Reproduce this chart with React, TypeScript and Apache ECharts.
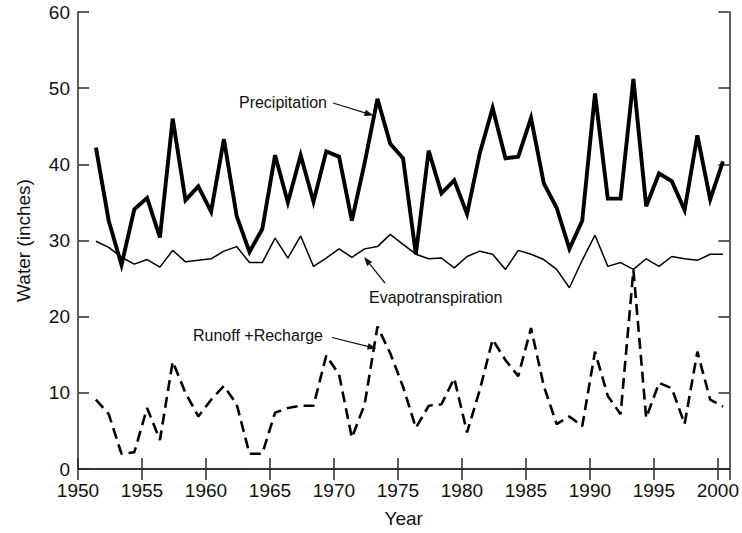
import React, { useEffect, useRef } from "react";
import * as echarts from "echarts";

const years = [
  1951, 1952, 1953, 1954, 1955, 1956, 1957, 1958, 1959, 1960,
  1961, 1962, 1963, 1964, 1965, 1966, 1967, 1968, 1969, 1970,
  1971, 1972, 1973, 1974, 1975, 1976, 1977, 1978, 1979, 1980,
  1981, 1982, 1983, 1984, 1985, 1986, 1987, 1988, 1989, 1990,
  1991, 1992, 1993, 1994, 1995, 1996, 1997, 1998, 1999, 2000,
];

const precipitation = [
  42.2, 32.6, 26.8, 34.1, 35.6, 30.4, 46.0, 35.3, 37.1, 33.8,
  43.3, 33.2, 28.5, 31.5, 41.2, 35.0, 41.2, 35.1, 41.7, 41.0,
  32.6, 40.2, 48.6, 42.7, 40.8, 28.2, 41.8, 36.2, 37.9, 33.5,
  41.5, 47.4, 40.8, 41.0, 46.1, 37.5, 34.3, 28.9, 32.6, 49.3,
  35.5, 35.5, 51.2, 34.5, 38.8, 37.8, 34.0, 43.8, 35.4, 40.4,
];

const evapotranspiration = [
  29.9, 29.1, 27.8, 26.9, 27.5, 26.5, 28.7, 27.2, 27.4, 27.6,
  28.6, 29.2, 27.1, 27.1, 30.3, 27.7, 30.6, 26.6, 27.7, 28.9,
  27.8, 28.9, 29.2, 30.8, 29.5, 28.2, 27.6, 27.7, 26.4, 27.9,
  28.6, 28.2, 26.2, 28.7, 28.2, 27.5, 26.2, 23.8, 27.4, 30.7,
  26.6, 27.1, 26.2, 27.6, 26.6, 27.9, 27.6, 27.4, 28.2, 28.2,
];

const runoffRecharge = [
  9.1, 7.2, 2.0, 2.2, 8.0, 3.8, 14.1, 10.0, 6.9, 9.1,
  10.9, 8.5, 2.0, 2.0, 7.4, 8.0, 8.3, 8.3, 14.9, 12.4,
  4.1, 8.5, 18.7, 15.2, 10.8, 5.4, 8.3, 8.5, 11.9, 4.8,
  10.4, 17.0, 14.3, 12.2, 18.5, 10.9, 5.9, 6.9, 5.6, 15.4,
  9.6, 7.2, 26.1, 6.7, 11.3, 10.6, 5.9, 15.4, 9.1, 8.2,
];

const xTickLabels = ["1950", "1955", "1960", "1965", "1970", "1975", "1980", "1985", "1990", "1995", "2000"];
const yTickLabels = ["0", "10", "20", "30", "40", "50", "60"];

// data points are plotted at mid-year
const YEAR_OFFSET = 0.4;

const FONT = "'Liberation Sans', Arial, Helvetica, sans-serif";
const AXIS_COLOR = "#2a2a2a";

function arrow(sx: number, sy: number, tx: number, ty: number) {
  const dx = tx - sx;
  const dy = ty - sy;
  const len = Math.sqrt(dx * dx + dy * dy);
  const ux = dx / len;
  const uy = dy / len;
  const L = 9;
  const W = 3.2;
  const bx = tx - ux * L;
  const by = ty - uy * L;
  return [
    {
      type: "line",
      shape: { x1: sx, y1: sy, x2: bx + ux * 1, y2: by + uy * 1 },
      style: { stroke: "#111", lineWidth: 1.2 },
      silent: true,
    },
    {
      type: "polygon",
      shape: {
        points: [
          [tx, ty],
          [bx - uy * W, by + ux * W],
          [bx + uy * W, by - ux * W],
        ],
      },
      style: { fill: "#111" },
      silent: true,
    },
  ];
}

export default function App() {
  const ref = useRef<HTMLDivElement>(null);

  useEffect(() => {
    if (!ref.current) return;
    const chart = echarts.init(ref.current, undefined, { renderer: "svg" });

    const toPairs = (vals: number[]) => years.map((y, i) => [y + YEAR_OFFSET, vals[i]]);

    const axisCommon = {
      axisLine: { show: true, lineStyle: { color: AXIS_COLOR, width: 1.5 } },
      axisTick: { show: true, inside: true, length: 11, lineStyle: { color: AXIS_COLOR, width: 1.5 } },
      splitLine: { show: false },
    };

    chart.setOption({
      animation: false,
      backgroundColor: "#ffffff",
      grid: { left: 78, right: 10, top: 12, bottom: 59, containLabel: false },
      xAxis: [
        {
          type: "value",
          position: "bottom",
          min: 1950,
          max: 2000.9,
          interval: 5,
          ...axisCommon,
          axisLabel: {
            show: true,
            margin: 12,
            color: "#111",
            fontSize: 19,
            fontFamily: FONT,
            showMaxLabel: false,
            formatter: (v: number) => {
              const s = String(Math.round(v));
              return Math.abs(v - Math.round(v)) < 1e-6 && xTickLabels.includes(s) ? s : "";
            },
          },
          name: "Year",
          nameLocation: "middle",
          nameGap: 40,
          nameTextStyle: { color: "#111", fontSize: 19, fontFamily: FONT },
        },
        {
          type: "value",
          position: "top",
          min: 1950,
          max: 2000.9,
          interval: 5,
          ...axisCommon,
          axisLabel: { show: false },
        },
      ],
      yAxis: [
        {
          type: "value",
          position: "left",
          min: 0,
          max: 60,
          interval: 10,
          ...axisCommon,
          axisLabel: {
            show: true,
            margin: 8,
            color: "#111",
            fontSize: 19,
            fontFamily: FONT,
            formatter: (v: number) => (yTickLabels.includes(String(v)) ? String(v) : ""),
          },
          name: "Water (inches)",
          nameLocation: "middle",
          nameGap: 45,
          nameTextStyle: { color: "#111", fontSize: 19, fontFamily: FONT },
        },
        {
          type: "value",
          position: "right",
          min: 0,
          max: 60,
          interval: 10,
          ...axisCommon,
          axisLabel: { show: false },
        },
      ],
      series: [
        {
          name: "Precipitation",
          type: "line",
          data: toPairs(precipitation),
          symbol: "none",
          lineStyle: { color: "#000", width: 3.9, join: "miter" },
          z: 3,
        },
        {
          name: "Evapotranspiration",
          type: "line",
          data: toPairs(evapotranspiration),
          symbol: "none",
          lineStyle: { color: "#000", width: 1.5 },
          z: 2,
        },
        {
          name: "Runoff +Recharge",
          type: "line",
          data: toPairs(runoffRecharge),
          symbol: "none",
          lineStyle: { color: "#000", width: 2.6, type: [11, 6] },
          z: 2,
        },
      ],
      graphic: [
        {
          type: "text",
          x: 327,
          y: 102,
          style: {
            text: "Precipitation",
            fill: "#111",
            font: `16px ${FONT}`,
            align: "right",
            verticalAlign: "middle",
          },
          silent: true,
        },
        {
          type: "text",
          x: 369,
          y: 297,
          style: {
            text: "Evapotranspiration",
            fill: "#111",
            font: `16px ${FONT}`,
            align: "left",
            verticalAlign: "middle",
          },
          silent: true,
        },
        {
          type: "text",
          x: 193,
          y: 335,
          style: {
            text: "Runoff +Recharge",
            fill: "#111",
            font: `16px ${FONT}`,
            align: "left",
            verticalAlign: "middle",
          },
          silent: true,
        },
        ...arrow(333, 103, 373.5, 115.5),
        ...arrow(385, 283, 364, 257),
        ...arrow(332, 337.5, 376.5, 348.5),
      ],
    });

    return () => {
      chart.dispose();
    };
  }, []);

  return (
    <div
      ref={ref}
      style={{ position: "absolute", left: 0, top: 0, width: 742, height: 533, background: "#fff" }}
    />
  );
}
